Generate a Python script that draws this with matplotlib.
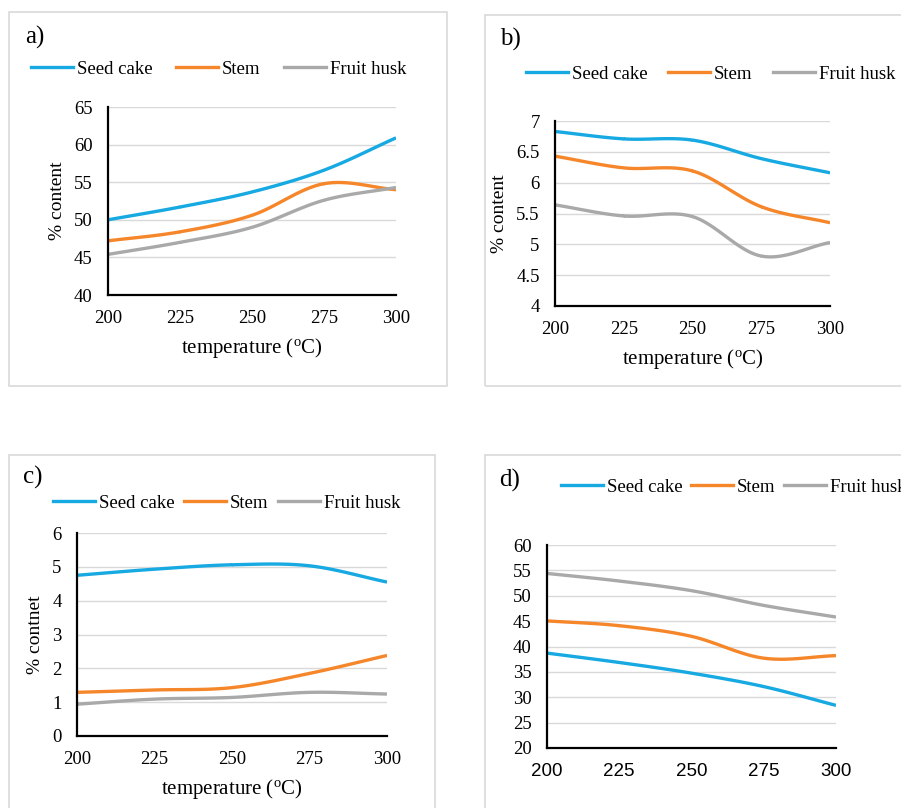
import numpy as np
import matplotlib.pyplot as plt
from matplotlib.patches import Rectangle
from matplotlib.lines import Line2D

temps = [200, 225, 250, 275, 300]
series_names = ['Seed cake', 'Stem', 'Fruit husk']

# a) 
a_seed = [50.0, 51.7, 53.7, 56.6, 60.9]
a_stem = [47.2, 48.4, 50.6, 54.8, 54.0]
a_husk = [45.4, 47.0, 49.0, 52.6, 54.3]
# b)
b_seed = [6.83, 6.71, 6.69, 6.39, 6.16]
b_stem = [6.43, 6.24, 6.19, 5.61, 5.35]
b_husk = [5.64, 5.46, 5.45, 4.81, 5.03]
# c)
c_seed = [4.75, 4.93, 5.06, 5.03, 4.55]
c_stem = [1.29, 1.36, 1.43, 1.85, 2.38]
c_husk = [0.94, 1.09, 1.14, 1.29, 1.24]
# d)
d_seed = [38.7, 36.85, 34.75, 32.1, 28.4]
d_stem = [45.05, 44.1, 42.0, 37.7, 38.2]
d_husk = [54.4, 52.9, 51.0, 48.1, 45.8]

colors = ['#17A9E1', '#F6862A', '#A9A9A9']
serif = 'Liberation Serif'

W, H = 901, 808
fig = plt.figure(figsize=(W / 100, H / 100), dpi=100)


def smooth(x, y, n=30):
    # excel-like smoothed line (catmull-rom through the points)
    x = np.asarray(x, float)
    y = np.asarray(y, float)
    xp = np.concatenate([[2 * x[0] - x[1]], x, [2 * x[-1] - x[-2]]])
    yp = np.concatenate([[y[0]], y, [y[-1]]])
    yp[0] = y[0] - (y[1] - y[0])
    yp[-1] = y[-1] + (y[-1] - y[-2])
    xs, ys = [], []
    t = np.linspace(0, 1, n)
    for i in range(1, len(xp) - 2):
        for arr, out in ((xp, xs), (yp, ys)):
            p0, p1, p2, p3 = arr[i - 1], arr[i], arr[i + 1], arr[i + 2]
            out.append(0.5 * (2 * p1 + (-p0 + p2) * t
                              + (2 * p0 - 5 * p1 + 4 * p2 - p3) * t ** 2
                              + (-p0 + 3 * p1 - 3 * p2 + p3) * t ** 3))
    return np.concatenate(xs), np.concatenate(ys)


def box(l, t, r, b):
    fig.patches.append(Rectangle((l / W, 1 - b / H), (r - l) / W, (b - t) / H,
                                 transform=fig.transFigure, fill=False,
                                 edgecolor='#D9D9D9', lw=1.2, zorder=0))


def panel(rect, data, ylim, ystep, ylabel, tag, tagpos, leg_pos, colsp,
          xlabel=True, xfont=serif):
    l, t, r, b = rect
    ax = fig.add_axes([l / W, 1 - b / H, (r - l) / W, (b - t) / H])
    for ys, c in zip(data, colors):
        sx, sy = smooth(temps, ys)
        ax.plot(sx, sy, color=c, lw=2.4, solid_capstyle='butt')
    ax.set_xlim(200, 300)
    ax.set_ylim(*ylim)
    ax.set_xticks(temps)
    yt = np.arange(ylim[0], ylim[1] + ystep / 2, ystep)
    ax.set_yticks(yt)
    ax.set_yticklabels([('%g' % v) for v in yt], fontfamily=serif, fontsize=13.5)
    ax.set_xticklabels([str(v) for v in temps], fontfamily=xfont, fontsize=13.5)
    ax.tick_params(length=0, pad=11)
    ax.grid(axis='y', color='#D9D9D9', lw=1)
    ax.set_axisbelow(True)
    for s in ['top', 'right']:
        ax.spines[s].set_visible(False)
    for s in ['left', 'bottom']:
        ax.spines[s].set_color('black')
        ax.spines[s].set_linewidth(1.6)
    if xlabel:
        ax.set_xlabel('temperature ($\\mathregular{^o}$C)', fontfamily=serif,
                      fontsize=15, labelpad=6)
    if ylabel:
        ax.set_ylabel(ylabel, fontfamily=serif, fontsize=14, labelpad=6)
    fig.text(tagpos[0] / W, 1 - tagpos[1] / H, tag, fontfamily=serif,
             fontsize=18, va='center', ha='left')
    handles = [Line2D([], [], color=c, lw=2.4) for c in colors]
    ax.legend(handles, series_names, loc='center left',
              bbox_to_anchor=(leg_pos[0] / W, 1 - leg_pos[1] / H),
              bbox_transform=fig.transFigure, ncol=3, frameon=False,
              borderpad=0, borderaxespad=0, handlelength=2.25,
              handletextpad=0.2, columnspacing=colsp,
              prop={'family': serif, 'size': 13.5})
    return ax


box(9, 12, 447, 386)
box(485, 15, 910, 386)
box(9, 455, 435, 820)
box(485, 455, 910, 820)

panel((108, 107, 396, 295), [a_seed, a_stem, a_husk], (40, 65), 5,
      '% content', 'a)', (25, 37), (31, 69), 1.25)
panel((555, 121, 830, 306), [b_seed, b_stem, b_husk], (4, 7), 0.5,
      '% content', 'b)', (500, 39), (526, 74), 1.1)
panel((77, 533, 387, 736), [c_seed, c_stem, c_husk], (0, 6), 1,
      '% contnet', 'c)', (23, 477), (53, 503), 0.5)
panel((547, 545, 836, 748), [d_seed, d_stem, d_husk], (20, 60), 5,
      None, 'd)', (499, 480), (561, 487), 0.45, xlabel=False,
      xfont='Liberation Sans')

fig.savefig('out.png', dpi=100)
